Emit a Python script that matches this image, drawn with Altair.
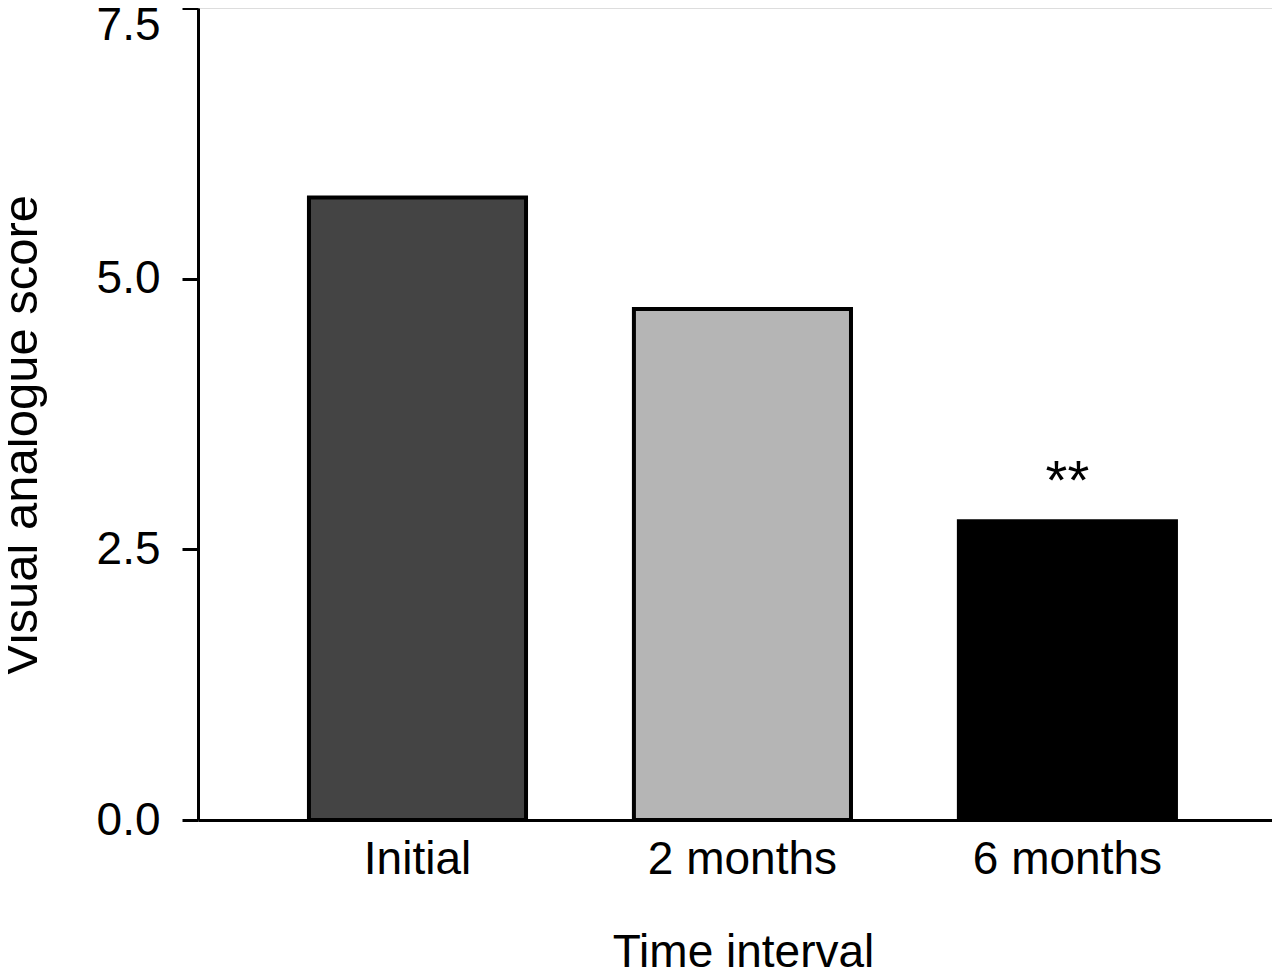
import altair as alt
import pandas as pd

categories = ["Initial", "2 months", "6 months"]
scores = [5.75, 4.72, 2.76]
marks = ["", "", "**"]
colors = ["#444444", "#b5b5b5", "#000000"]

df = pd.DataFrame({"interval": categories, "score": scores, "sig": marks})

FONT = "Liberation Sans"

x_enc = alt.X(
    "interval:N",
    sort=categories,
    title="Time interval",
    scale=alt.Scale(paddingInner=0.332, paddingOuter=0.3185, align=0.536),
    axis=alt.Axis(
        labelAngle=0,
        ticks=False,
        tickSize=0,
        labelPadding=53,
        labelLimit=0,
        labelBaseline="alphabetic",
        labelFont=FONT,
        labelFontSize=46,
        labelColor="black",
        domainColor="black",
        domainWidth=3,
        titleFont=FONT,
        titleFontSize=46,
        titleFontWeight="normal",
        titleColor="black",
        titleBaseline="alphabetic",
        titleY=146,
        titleX=545,
        titleLimit=0,
        grid=False,
    ),
)

y_enc = alt.Y(
    "score:Q",
    title="Visual analogue score",
    scale=alt.Scale(domain=[0, 7.5], nice=False, zero=True),
    axis=alt.Axis(
        values=[0, 2.5, 5.0, 7.5],
        format=".1f",
        tickSize=16,
        tickWidth=3,
        tickColor="black",
        domainColor="black",
        domainWidth=3,
        labelPadding=22,
        labelFont=FONT,
        labelFontSize=46,
        labelColor="black",
        labelBaseline={"condition": {"test": "datum.value === 7.5", "value": "top"}, "value": "middle"},
        labelOffset={"condition": {"test": "datum.value === 7.5", "value": -5}, "value": 0},
        titleFont=FONT,
        titleFontSize=49,
        titleFontWeight="normal",
        titleColor="black",
        titleBaseline="alphabetic",
        titleX=-162,
        titleY=427,
        titleLimit=0,
        grid=False,
    ),
)

bars = alt.Chart(df).mark_bar(stroke="black", strokeWidth=4).encode(
    x=x_enc,
    y=y_enc,
    color=alt.Color("interval:N", sort=categories,
                    scale=alt.Scale(domain=categories, range=colors), legend=None),
)

stars = alt.Chart(df).mark_text(font=FONT, fontSize=56, baseline="alphabetic", dy=-22, color="black").encode(
    x=alt.X("interval:N", sort=categories),
    y=alt.Y("score:Q"),
    text="sig:N",
)

chart = (
    alt.layer(bars, stars)
    .properties(
        width=1074,
        height=812,
        autosize=alt.AutoSizeParams(type="none"),
        padding={"left": 190, "top": 0, "right": 0, "bottom": 147},
    )
    .configure_view(strokeWidth=0, stroke=None, fill="white")
    .configure_axis(grid=False)
    .configure(background="white")
)

chart.save("out.html", embed_options={"renderer": "svg", "actions": False})
